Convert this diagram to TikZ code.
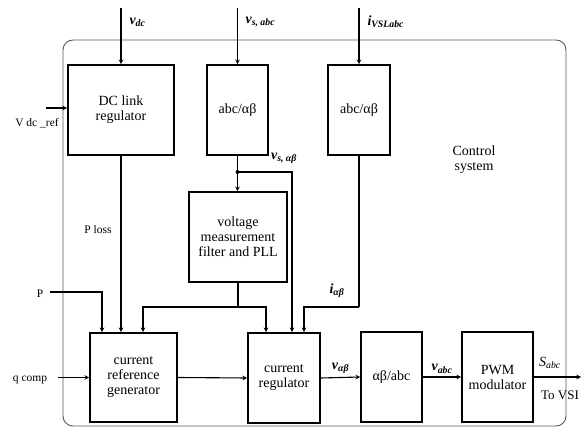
\documentclass[tikz,border=0pt]{standalone}
\usepackage{fontspec}
\setmainfont{Liberation Serif}
\usepackage{tikz}
\usetikzlibrary{arrows, positioning}
\tikzset{
    block/.style={rectangle, draw=black, line width=1.6pt, align=center, font=\fontsize{14}{15}\selectfont},
    arrow/.style={line width=1.1pt, ->, >=stealth},
    wire/.style={line width=1.1pt},
    sig/.style={font=\fontsize{14}{15}\selectfont\bfseries\itshape},
    small/.style={font=\fontsize{11.5}{12}\selectfont}
}
\begin{document}
\begin{tikzpicture}[x=1pt, y=-1pt]
    \useasboundingbox (0,0) rectangle (581,430);
    % Control system frame
    \draw[gray!70!black, line width=0.9pt, rounded corners=10pt] (63,40) rectangle (566,426);
    \node[font=\fontsize{14}{15}\selectfont, align=center] (ctrl) at (474,160) {Control\\system};

    % Blocks
    \node[block, minimum width=106pt, minimum height=90pt] (dcreg) at (121,110) {DC link\\regulator};
    \node[block, minimum width=61pt, minimum height=90pt] (abcone) at (237.5,110) {abc/αβ};
    \node[block, minimum width=62pt, minimum height=90pt] (abctwo) at (359,110) {abc/αβ};
    \node[block, minimum width=98pt, minimum height=90pt] (pll) at (238,237) {voltage\\measurement\\filter and PLL};
    \node[block, minimum width=87pt, minimum height=89pt] (crg) at (133.5,377.5) {current\\reference\\generator};
    \node[block, minimum width=72pt, minimum height=90pt] (creg) at (284,378) {current\\regulator};
    \node[block, minimum width=61pt, minimum height=90pt] (abinv) at (391.5,377) {αβ/abc};
    \node[block, minimum width=71pt, minimum height=90pt] (pwm) at (497.5,377) {PWM\\modulator};

    % Inputs from the top
    \coordinate (vdcin) at (121,8);
    \coordinate (vsin) at (237.5,8);
    \coordinate (iin) at (359,8);
    \draw[arrow] (vdcin) -- (dcreg.north);
    \draw[arrow] (vsin) -- (abcone.north);
    \draw[arrow] (iin) -- (abctwo.north);
    \node[sig, anchor=west] at (126,22) {v\textsubscript{dc}};
    \node[sig, anchor=west] at (242,22) {v\textsubscript{s, abc}};
    \node[sig, anchor=west] at (364,22) {i\textsubscript{VSLabc}};

    % DC reference
    \coordinate (vref) at (46,108);
    \draw[arrow] (vref) -- (vref -| dcreg.west);
    \node[small] at (37,123) {V dc \_ref};

    % v_s,alphabeta distribution
    \coordinate (jv) at (237.5,172);
    \draw[arrow] (abcone.south) -- (abcone.south |- pll.north);
    \fill (jv) circle (2pt);
    \draw[arrow] (jv) -| ([xshift=8pt]creg.north);
    \node[sig] at (284,158) {v\textsubscript{s, αβ}};

    % P loss
    \draw[arrow] (dcreg.south) -- (dcreg.south |- crg.north);
    \node[small] at (98,230) {P loss};

    % P
    \coordinate (pin) at (50,292);
    \draw[arrow] (pin) -| ([xshift=-31.5pt]crg.north);
    \node[small] at (40,294) {P};

    % PLL output bus
    \coordinate (pb) at (238,307);
    \draw[wire] (pll.south) -- (pb);
    \draw[arrow] (pb) -| ([xshift=9.5pt]crg.north);
    \draw[arrow] (pb) -| ([xshift=-18pt]creg.north);

    % i_alphabeta
    \coordinate (ib) at (359,307);
    \draw[wire] (abctwo.south) -- (ib);
    \draw[arrow] (ib) -| ([xshift=20pt]creg.north);
    \node[sig] at (337,291) {i\textsubscript{αβ}};

    % q comp
    \coordinate (qin) at (58,377.5);
    \draw[arrow] (qin) -- (crg.west);
    \node[small] at (30,380) {q comp};

    % Forward path
    \draw[arrow] (crg.east) -- (creg.west);
    \draw[arrow] (creg.east) -- node[sig, above] {v\textsubscript{αβ}} (abinv.west);
    \draw[arrow] (abinv.east) -- node[sig, above] {v\textsubscript{abc}} (pwm.west);
    \coordinate (out) at (581,377);
    \draw[arrow] (pwm.east) -- (out);
    \node[font=\fontsize{14}{15}\selectfont\itshape] at (550,363) {S\textsubscript{abc}};
    \node[font=\fontsize{13}{14}\selectfont] at (560,395) {To VSI};
\end{tikzpicture}
\end{document}
